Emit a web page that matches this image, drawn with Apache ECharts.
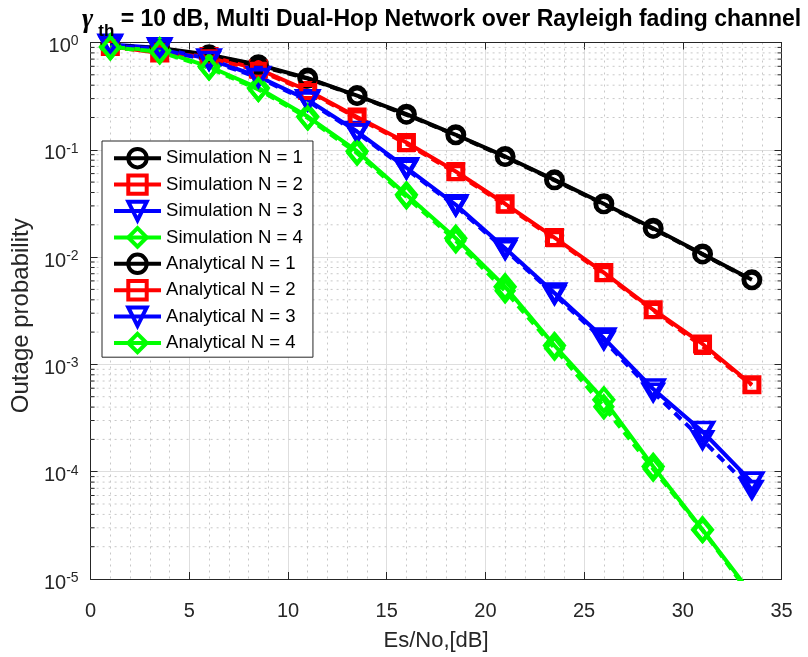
<!DOCTYPE html>
<html>
<head>
<meta charset="utf-8">
<script src="https://cdn.jsdelivr.net/npm/echarts@6/dist/echarts.min.js"></script>
<style>
  html, body { margin: 0; padding: 0; background: #ffffff; }
  #chart { width: 808px; height: 657px; }
</style>
</head>
<body>
<div id="chart"></div>
<script>
// Es/No sample points (dB)
const esNo = [1, 3.5, 6, 8.5, 11, 13.5, 16, 18.5, 21, 23.5, 26, 28.5, 31, 33.5];

// Outage probability, Monte-Carlo simulation
const simN1 = [0.93, 0.89, 0.77, 0.62, 0.466, 0.32, 0.215, 0.138, 0.0867, 0.0525, 0.0314, 0.0186, 0.0107, 0.00614];
const simN2 = [0.92, 0.80, 0.74, 0.565, 0.357, 0.202, 0.117, 0.0628, 0.0314, 0.0152, 0.00718, 0.00323, 0.00155, 0.000646];
const simN3 = [0.96, 0.89, 0.70, 0.482, 0.292, 0.148, 0.068, 0.0307, 0.0121, 0.00462, 0.00176, 0.00059, 0.000237, 0.000080];
const simN4 = [0.91, 0.84, 0.597, 0.376, 0.204, 0.097, 0.0381, 0.0150, 0.0053, 0.0015, 0.000468, 0.000112, 0.0000288, 0.0000072];

// Outage probability, closed-form analysis
const anaN1 = [0.95, 0.88, 0.76, 0.61, 0.46, 0.318, 0.212, 0.137, 0.0855, 0.0520, 0.0310, 0.0183, 0.0106, 0.0061];
const anaN2 = [0.90, 0.82, 0.72, 0.55, 0.35, 0.198, 0.114, 0.061, 0.0305, 0.0148, 0.0070, 0.00318, 0.00147, 0.00064];
const anaN3 = [0.94, 0.87, 0.68, 0.47, 0.285, 0.144, 0.066, 0.0298, 0.0117, 0.00445, 0.00168, 0.00055, 0.000198, 0.000068];
const anaN4 = [0.90, 0.82, 0.58, 0.365, 0.198, 0.093, 0.0365, 0.0142, 0.00485, 0.00142, 0.000403, 0.000106, 0.0000285, 0.0000068];

const seriesNames = [
  'Simulation N = 1', 'Simulation N = 2', 'Simulation N = 3', 'Simulation N = 4',
  'Analytical N = 1', 'Analytical N = 2', 'Analytical N = 3', 'Analytical N = 4'
];
const seriesValues = [simN1, simN2, simN3, simN4, anaN1, anaN2, anaN3, anaN4];
const colors = ['#000000', '#ff0000', '#0000ff', '#00ff00'];

// y-axis range in decades, and the minor grid positions 2..9 inside each decade
const yMinExp = -5;
const yMaxExp = 0;
const minorYTicks = [];
for (let e = yMinExp; e < yMaxExp; e++) {
  for (let m = 2; m <= 9; m++) minorYTicks.push(m * Math.pow(10, e));
}
const xMin = 0, xMax = 35, xStep = 5;

const FONT = 'Liberation Sans';
const AXIS_COLOR = '#262626';
const MINOR_COLOR = '#c8c8c8';
const LINE_W = 4;

// marker shapes per N: circle, square, down-triangle, diamond
const markerSim = [
  { symbol: 'circle', size: 17, rotate: 0 },
  { symbol: 'rect', size: 15, rotate: 0 },
  { symbol: 'triangle', size: [21, 18], rotate: 180 },
  { symbol: 'diamond', size: [19, 23], rotate: 0 }
];
const markerAna = [
  { symbol: 'circle', size: 15, rotate: 0 },
  { symbol: 'rect', size: 13, rotate: 0 },
  { symbol: 'triangle', size: [19, 16], rotate: 180 },
  { symbol: 'diamond', size: [17, 21], rotate: 0 }
];

const curves = seriesValues.map((vals, i) => {
  const n = i % 4;
  const analytical = i >= 4;
  const m = analytical ? markerAna[n] : markerSim[n];
  return {
    name: seriesNames[i],
    type: 'line',
    xAxisIndex: 0,
    yAxisIndex: 0,
    z: 3,
    data: esNo.map((x, k) => [x, vals[k]]),
    symbol: m.symbol,
    symbolSize: m.size,
    symbolRotate: m.rotate,
    showAllSymbol: true,
    clip: true,
    lineStyle: { color: colors[n], width: LINE_W, type: analytical ? [9, 6] : 'solid' },
    itemStyle: { color: 'rgba(255,255,255,0)', borderColor: colors[n], borderWidth: LINE_W },
    emphasis: { disabled: true },
    animation: false
  };
});

// dotted minor grid of the log axis, with short inward ticks on both sides
const minorGridSeries = {
  type: 'custom',
  xAxisIndex: 0,
  yAxisIndex: 0,
  z: 1,
  silent: true,
  animation: false,
  clip: false,
  data: minorYTicks.map((v) => [xMin, v]),
  renderItem: (params, api) => {
    const v = api.value(1);
    const p0 = api.coord([xMin, v]);
    const p1 = api.coord([xMax, v]);
    return {
      type: 'group',
      children: [
        { type: 'line', shape: { x1: p0[0], y1: p0[1], x2: p1[0], y2: p1[1] },
          style: { stroke: MINOR_COLOR, lineWidth: 1, lineDash: [2, 4] } },
        { type: 'line', shape: { x1: p0[0], y1: p0[1], x2: p0[0] + 4, y2: p0[1] },
          style: { stroke: AXIS_COLOR, lineWidth: 1 } },
        { type: 'line', shape: { x1: p1[0] - 4, y1: p1[1], x2: p1[0], y2: p1[1] },
          style: { stroke: AXIS_COLOR, lineWidth: 1 } }
      ]
    };
  }
};

const majorGrid = { show: true, lineStyle: { color: '#dedede', width: 1 } };
const minorGrid = { show: true, lineStyle: { color: MINOR_COLOR, width: 1, type: [2, 4] } };

const expLabel = (v) => {
  const e = Math.round(Math.log10(v));
  return '{b|10}{e|' + e + '}';
};

const option = {
  backgroundColor: '#ffffff',
  animation: false,
  title: {
    text: '{g|γ}{s|th}{t| = 10 dB, Multi Dual-Hop Network over Rayleigh fading channel}',
    left: 82,
    top: 0,
    padding: 0,
    textStyle: {
      rich: {
        g: { fontFamily: 'Liberation Serif', fontStyle: 'italic', fontSize: 27, color: '#000', lineHeight: 40, verticalAlign: 'middle', padding: [0, 5, 0, 0] },
        s: { fontFamily: FONT, fontWeight: 'bold', fontSize: 17, color: '#000', verticalAlign: 'bottom' },
        t: { fontFamily: FONT, fontWeight: 'bold', fontSize: 23, color: '#000', lineHeight: 40, verticalAlign: 'middle' }
      }
    }
  },
  legend: {
    orient: 'vertical',
    left: 102,
    top: 141,
    padding: [6, 10, 3, 10],
    itemWidth: 47,
    itemHeight: 23,
    itemGap: 4,
    backgroundColor: '#ffffff',
    borderColor: AXIS_COLOR,
    borderWidth: 1,
    borderRadius: 0,
    selectedMode: false,
    z: 10,
    textStyle: { fontFamily: FONT, fontSize: 18.6, color: '#000' },
    data: seriesNames.map((name) => ({
      name: name,
      lineStyle: { type: 'solid', width: LINE_W },
      itemStyle: { borderWidth: LINE_W }
    }))
  },
  grid: { left: 90.6, right: 26.5, top: 42.5, bottom: 77.5, containLabel: false },
  xAxis: [
    {
      type: 'value', min: xMin, max: xMax, interval: xStep,
      position: 'bottom',
      name: 'Es/No,[dB]', nameLocation: 'middle', nameGap: 51,
      nameTextStyle: { fontFamily: FONT, fontSize: 22, color: AXIS_COLOR },
      axisLine: { show: true, onZero: false, lineStyle: { color: AXIS_COLOR, width: 1 } },
      axisTick: { show: true, inside: true, length: 7, lineStyle: { color: AXIS_COLOR } },
      minorTick: { show: false, splitNumber: 5 },
      axisLabel: { fontFamily: FONT, fontSize: 20, color: AXIS_COLOR, margin: 22 },
      splitLine: majorGrid,
      minorSplitLine: minorGrid
    },
    {
      type: 'value', min: xMin, max: xMax, interval: xStep,
      position: 'top',
      axisLine: { show: true, onZero: false, lineStyle: { color: AXIS_COLOR, width: 1 } },
      axisTick: { show: true, inside: true, length: 7, lineStyle: { color: AXIS_COLOR } },
      axisLabel: { show: false },
      splitLine: { show: false }
    }
  ],
  yAxis: [
    {
      type: 'log', logBase: 10, min: Math.pow(10, yMinExp), max: Math.pow(10, yMaxExp),
      position: 'left',
      name: 'Outage probability', nameLocation: 'middle', nameGap: 54,
      nameTextStyle: { fontFamily: FONT, fontSize: 24, color: AXIS_COLOR, padding: [0, 10, 0, 0] },
      axisLine: { show: true, onZero: false, lineStyle: { color: AXIS_COLOR, width: 1 } },
      axisTick: { show: true, inside: true, length: 7, lineStyle: { color: AXIS_COLOR } },
      minorTick: { show: false },
      axisLabel: {
        margin: 12,
        formatter: expLabel,
        rich: {
          b: { fontFamily: FONT, fontSize: 20, color: AXIS_COLOR, lineHeight: 20, verticalAlign: 'bottom' },
          e: { fontFamily: FONT, fontSize: 14, color: AXIS_COLOR, lineHeight: 28, verticalAlign: 'top', padding: [6, 0, 8, 0] }
        }
      },
      splitLine: majorGrid,
      minorSplitLine: { show: false }
    },
    {
      type: 'log', logBase: 10, min: Math.pow(10, yMinExp), max: Math.pow(10, yMaxExp),
      position: 'right',
      axisLine: { show: true, onZero: false, lineStyle: { color: AXIS_COLOR, width: 1 } },
      axisTick: { show: true, inside: true, length: 7, lineStyle: { color: AXIS_COLOR } },
      minorTick: { show: false },
      axisLabel: { show: false },
      splitLine: { show: false }
    }
  ],
  series: [minorGridSeries].concat(curves)
};

const chart = echarts.init(document.getElementById('chart'), null, { renderer: 'canvas' });
chart.setOption(option);
</script>
</body>
</html>
